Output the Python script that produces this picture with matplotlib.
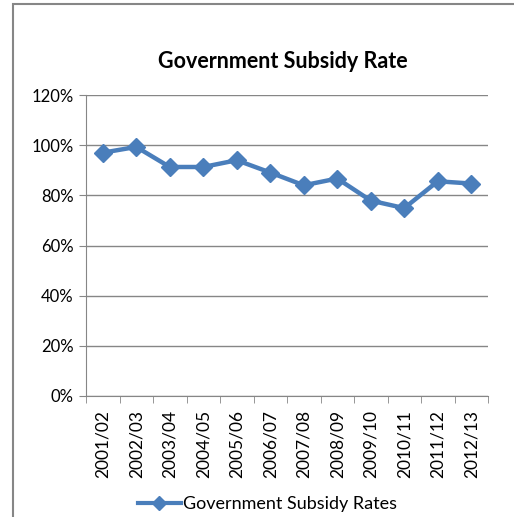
import matplotlib.pyplot as plt
import numpy as np
from matplotlib.patches import Rectangle
from matplotlib.lines import Line2D

years = ['2001/02', '2002/03', '2003/04', '2004/05', '2005/06', '2006/07',
         '2007/08', '2008/09', '2009/10', '2010/11', '2011/12', '2012/13']
subsidy_rate = [97, 99.3, 91.3, 91.3, 94, 89.1, 84, 86.7, 77.9, 74.9, 85.6, 84.7]
yticks = [0, 20, 40, 60, 80, 100, 120]

BLUE = '#4A7EBB'
GRID = '#868686'
plt.rcParams['font.family'] = ['Lato', 'DejaVu Sans']

fig = plt.figure(figsize=(5.14, 5.17), dpi=100)
# chart frame
fig.patches.append(Rectangle((13 / 514, -0.1), 1.2, (517 - 4) / 517 + 0.1,
                             transform=fig.transFigure, fill=False,
                             edgecolor=GRID, linewidth=1.5))

ax = fig.add_axes([86 / 514, (517 - 396) / 517, (488 - 86) / 514, (396 - 95) / 517])
x = np.arange(len(years))
ax.plot(x, subsidy_rate, '-D', color=BLUE, lw=3.2, ms=9, label='Government Subsidy Rates')

ax.set_xlim(-0.5, len(years) - 0.5)
ax.set_ylim(0, 120)
ax.set_yticks(yticks)
ax.set_yticklabels([f'{v}%' for v in yticks], fontsize=12)
ax.yaxis.grid(True, color=GRID, lw=1)
ax.set_axisbelow(True)

ax.set_xticks(x)
ax.set_xticklabels(years, rotation=90, fontsize=12.5)
ax.set_xticks(np.arange(-0.5, len(years)), minor=True)
ax.tick_params(axis='x', which='major', length=0, pad=10)
ax.tick_params(axis='x', which='minor', length=5, color=GRID)
ax.tick_params(axis='y', length=5, color=GRID, pad=4)

for side in ['top', 'right']:
    ax.spines[side].set_visible(False)
for side in ['left', 'bottom']:
    ax.spines[side].set_color(GRID)

fig.text(0.551, 1 - 62 / 517, 'Government Subsidy Rate', ha='center', va='center',
         fontsize=15.5, fontweight='bold')

handle = Line2D([], [], color=BLUE, lw=3, marker='D', ms=7)
fig.legend([handle], ['Government Subsidy Rates'], loc='center',
           bbox_to_anchor=(0.52, 1 - 504 / 517), frameon=False, fontsize=13,
           handlelength=2.4, handletextpad=0.1)

fig.savefig('out.png', dpi=100)
